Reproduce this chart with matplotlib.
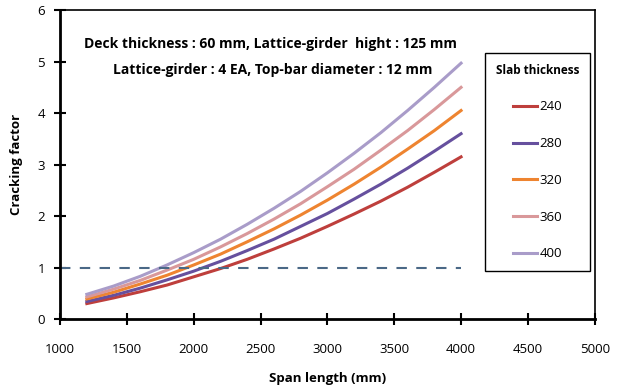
import matplotlib.pyplot as plt

plt.rcParams['font.family'] = ['Open Sans', 'DejaVu Sans']

span = [1200, 1400, 1600, 1800, 2000, 2200, 2400, 2600, 2800, 3000, 3200, 3400, 3600, 3800, 4000]
thickness = ['240', '280', '320', '360', '400']
cf_240 = [0.30, 0.41, 0.53, 0.66, 0.82, 0.98, 1.16, 1.36, 1.57, 1.80, 2.04, 2.29, 2.56, 2.85, 3.15]
cf_280 = [0.34, 0.46, 0.60, 0.76, 0.93, 1.12, 1.33, 1.55, 1.80, 2.05, 2.33, 2.62, 2.93, 3.26, 3.60]
cf_320 = [0.39, 0.52, 0.68, 0.85, 1.05, 1.26, 1.50, 1.75, 2.02, 2.31, 2.62, 2.95, 3.30, 3.66, 4.05]
cf_360 = [0.43, 0.58, 0.75, 0.95, 1.16, 1.40, 1.66, 1.94, 2.24, 2.57, 2.91, 3.28, 3.66, 4.07, 4.50]
cf_400 = [0.48, 0.64, 0.83, 1.05, 1.29, 1.55, 1.84, 2.15, 2.48, 2.84, 3.22, 3.62, 4.05, 4.50, 4.97]
ref_x = [1000, 4000]
ref_y = [1, 1]

colors = ['#BE3F3C', '#66509E', '#EE8430', '#D9989A', '#A99CC9']

fig = plt.figure(figsize=(6.26, 3.9), dpi=100)
ax = fig.add_axes([0.096, 0.182, 0.854, 0.792])

for vals, lab, c in zip([cf_240, cf_280, cf_320, cf_360, cf_400], thickness, colors):
    ax.plot(span, vals, color=c, lw=2.2, label=lab)
ax.plot(ref_x, ref_y, color='#4A6886', lw=1.5, dashes=(5, 4.5))

ax.set_xlim(1000, 5000)
ax.set_ylim(0, 6)
ax.set_xticks(range(1000, 5001, 500))
ax.set_yticks(range(0, 7))
ax.tick_params(direction='inout', length=8, width=1.5, labelsize=9.5, pad=7)
ax.tick_params(axis='x', pad=13)
for s in ['left', 'bottom']:
    ax.spines[s].set_linewidth(2)
for s in ['top', 'right']:
    ax.spines[s].set_linewidth(1.2)

ax.set_xlabel('Span length (mm)', fontsize=9.5, fontweight='bold', labelpad=12)
ax.set_ylabel('Cracking factor', fontsize=9.5, fontweight='bold', labelpad=10)

ax.text(0.393, 0.889, 'Deck thickness : 60 mm, Lattice-girder  hight : 125 mm',
        transform=ax.transAxes, ha='center', va='center', fontsize=10, fontweight='bold')
ax.text(0.398, 0.806, 'Lattice-girder : 4 EA, Top-bar diameter : 12 mm',
        transform=ax.transAxes, ha='center', va='center', fontsize=10, fontweight='bold')

handles, labels = ax.get_legend_handles_labels()
leg = ax.legend(handles[:5], labels[:5], title='Slab thickness', loc='upper left',
                bbox_to_anchor=(0.795, 0.861), borderaxespad=0, fontsize=9.5,
                title_fontsize=8.5, handlelength=1.8, handletextpad=0.2,
                labelspacing=1.8, borderpad=0.8, fancybox=False,
                edgecolor='black', framealpha=1)
leg.get_title().set_fontweight('bold')
leg.get_frame().set_linewidth(1.0)
leg._legend_box.align = 'center'

fig.savefig('out.png', dpi=100)
